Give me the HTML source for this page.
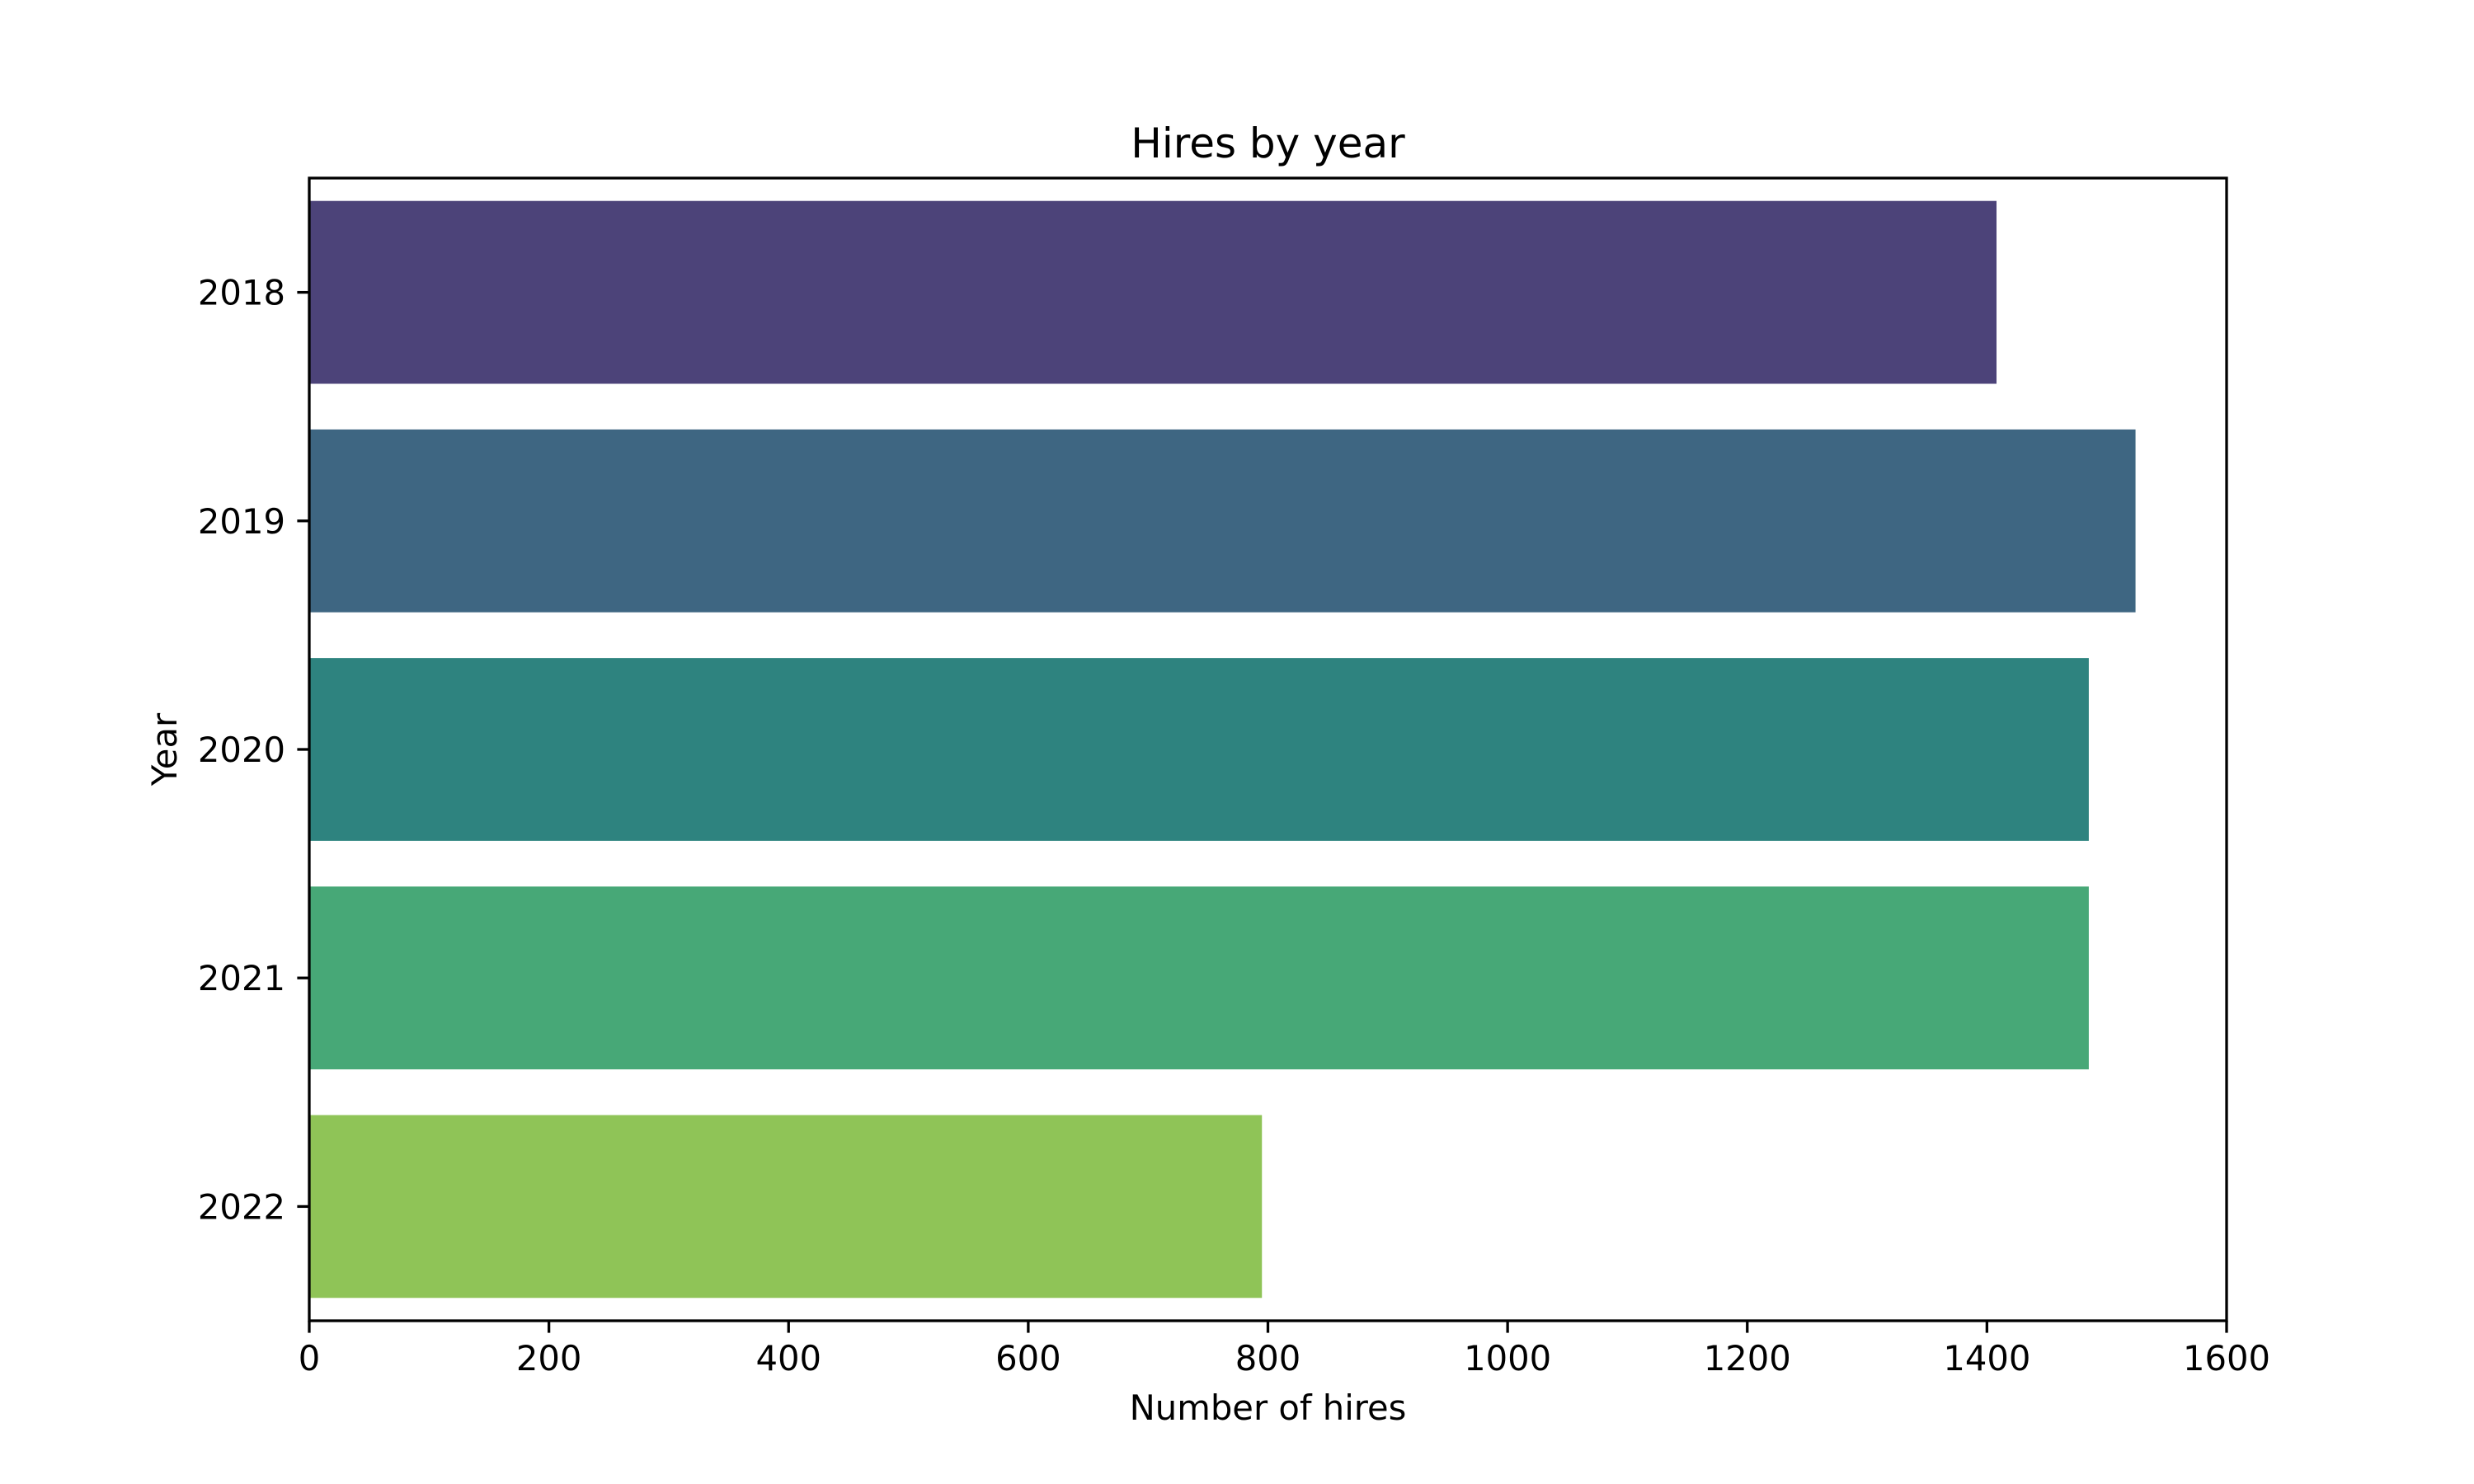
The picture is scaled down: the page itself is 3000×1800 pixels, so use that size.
<!DOCTYPE html>
<html><head><meta charset="utf-8"><style>
body{margin:0;background:#fff}
svg{display:block}
text{font-family:"DejaVu Sans","Liberation Sans",sans-serif;fill:#000}
</style></head><body>
<svg id="chart" width="3000" height="1800" viewBox="0 0 3000 1800" xmlns="http://www.w3.org/2000/svg">
<rect width="3000" height="1800" fill="#fff"/>
<g id="bars"></g>
<g id="axes"></g>
<text x="1537.5" y="191" font-size="50" text-anchor="middle">Hires by year</text>
<text x="1537.5" y="1722" font-size="41.7" text-anchor="middle">Number of hires</text>
<text transform="translate(214,909) rotate(-90)" font-size="41.7" text-anchor="middle">Year</text>
</svg>
<script>
const categories = ["2018","2019","2020","2021","2022"];
const hires = [1408, 1524, 1485, 1485, 795];
const xTicks = [0,200,400,600,800,1000,1200,1400,1600];
const colors = ["#4c4379","#3e6682","#2e837f","#47a877","#8fc457"];

const L=375,R=2700,T=216,B=1602;
const xMin=0,xMax=1600;
const NS="http://www.w3.org/2000/svg";
function xs(v){return L+(v-xMin)/(xMax-xMin)*(R-L);}
const band=(B-T)/categories.length;
function yc(i){return T+band*(i+0.5);}
function mk(tag,attrs,parent){const e=document.createElementNS(NS,tag);for(const k in attrs)e.setAttribute(k,attrs[k]);parent.appendChild(e);return e;}
const gb=document.getElementById('bars'), ga=document.getElementById('axes');
categories.forEach((c,i)=>{
  const h=band*0.8;
  const r=mk('rect',{x:xs(0),y:yc(i)-h/2,width:xs(hires[i])-xs(0),height:h,fill:colors[i]},gb);
  
  
  const t=mk('line',{x1:L,x2:L-14.6,y1:yc(i),y2:yc(i),stroke:'#000','stroke-width':3.3},ga);
  
  
  const lb=mk('text',{x:L-29,y:yc(i)+15,'font-size':41.7,'text-anchor':'end'},ga);
  lb.textContent=c;
  
  
});
xTicks.forEach(v=>{
  const t=mk('line',{x1:xs(v),x2:xs(v),y1:B,y2:B+14.6,stroke:'#000','stroke-width':3.3},ga);
  
  
  const lb=mk('text',{x:xs(v),y:B+60,'font-size':41.7,'text-anchor':'middle'},ga);
  lb.textContent=v;
  
  
});
const fr=mk('rect',{x:L,y:T,width:R-L,height:B-T,fill:'none',stroke:'#000','stroke-width':3.3},ga);


</script>
</body></html>
